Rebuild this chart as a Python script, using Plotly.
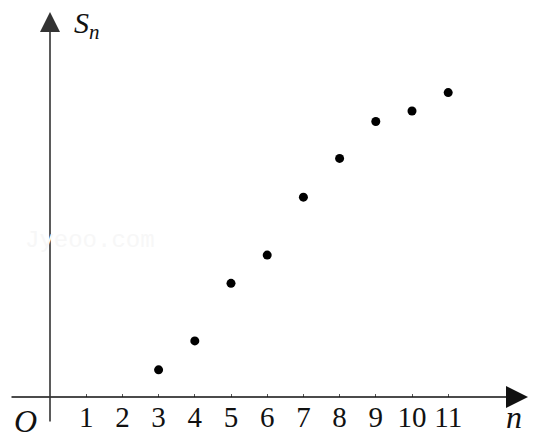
import plotly.graph_objects as go

# Data
n_values = [3, 4, 5, 6, 7, 8, 9, 10, 11]
s_values = [0.75, 1.55, 3.14, 3.92, 5.52, 6.59, 7.61, 7.90, 8.41]
tick_vals = [1, 2, 3, 4, 5, 6, 7, 8, 9, 10, 11]
tick_text = [str(v) for v in tick_vals]

W, H = 537, 446
UNIT = 36.2        # px per unit
X0_PX, Y0_PX = 50, 397  # pixel position of origin

x_range = [-X0_PX / UNIT, (W - X0_PX) / UNIT]
y_range = [-(H - Y0_PX) / UNIT, Y0_PX / UNIT]

def px_to_x(px):
    return (px - X0_PX) / UNIT

def py_to_y(py):
    return (Y0_PX - py) / UNIT

serif = "Times New Roman, Liberation Serif, serif"

fig = go.Figure()
fig.add_trace(go.Scatter(
    x=n_values, y=s_values, mode="markers",
    marker=dict(color="black", size=9),
    hoverinfo="skip", showlegend=False,
))

annotations = [
    # x axis arrow
    dict(x=px_to_x(528), y=0, ax=px_to_x(10), ay=0,
         xref="x", yref="y", axref="x", ayref="y",
         showarrow=True, arrowhead=2, arrowwidth=1.6, arrowsize=2.75,
         arrowcolor="#111111", text=""),
    # y axis arrow
    dict(x=0, y=py_to_y(12), ax=0, ay=py_to_y(423),
         xref="x", yref="y", axref="x", ayref="y",
         showarrow=True, arrowhead=2, arrowwidth=1.6, arrowsize=2.5,
         arrowcolor="#333333", text=""),
    # origin label
    dict(x=px_to_x(25), y=py_to_y(421), xref="x", yref="y", showarrow=False,
         text="<i>O</i>", font=dict(family=serif, size=32, color="#111111")),
    # n label
    dict(x=px_to_x(514), y=py_to_y(417), xref="x", yref="y", showarrow=False,
         text="<i>n</i>", font=dict(family=serif, size=32, color="#111111")),
    # S_n label
    dict(x=px_to_x(87), y=py_to_y(25), xref="x", yref="y", showarrow=False,
         text="<i>S</i><sub><i>n</i></sub>", font=dict(family=serif, size=30, color="#111111")),
    # watermark
    dict(x=px_to_x(90), y=py_to_y(240), xref="x", yref="y", showarrow=False,
         text="Jyeoo.com", font=dict(family="Liberation Mono", size=24, color="#f7f7f7")),
]

fig.update_layout(
    width=W, height=H, autosize=False,
    margin=dict(l=0, r=0, t=0, b=0),
    paper_bgcolor="white", plot_bgcolor="white",
    annotations=annotations,
    xaxis=dict(
        range=x_range, showgrid=False, zeroline=False, showline=False,
        tickmode="array", tickvals=tick_vals, ticktext=tick_text,
        ticks="inside", ticklen=3, tickwidth=1.2, tickcolor="#555555",
        anchor="free", position=(H - Y0_PX) / H,
        tickfont=dict(family=serif, size=29, color="#111111"),
        ticklabelstandoff=0, fixedrange=True,
    ),
    yaxis=dict(range=y_range, visible=False, fixedrange=True),
)

fig.write_html(
    "out.html",
    config={"displayModeBar": False},
    post_script="document.body.style.margin='0';document.body.style.padding='0';",
)
